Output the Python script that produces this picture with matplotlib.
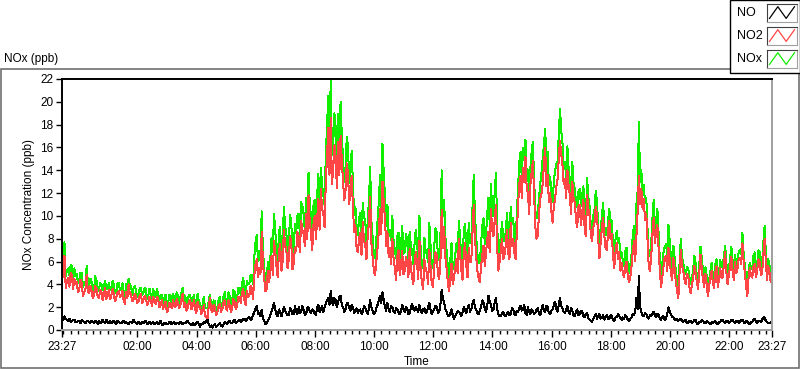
import numpy as np
import matplotlib
matplotlib.use("Agg")
import matplotlib.pyplot as plt
from matplotlib.patches import Rectangle

plt.rcParams['font.family'] = ['Liberation Sans', 'DejaVu Sans']
plt.rcParams['font.size'] = 8

# 2.5-minute values, 23:27 to 23:27 next day
# (24 values per hour, one row per hour, plus the last point)
no2 = [
    4.0, 5.4, 6.5, 3.7, 4.3, 4.6, 3.8, 5.0, 4.8, 3.6, 4.5, 4.0, 4.2, 3.3, 3.6, 4.4, 4.1, 3.0, 3.3, 3.6, 4.8, 3.4, 3.2, 3.9,
    3.4, 2.8, 3.0, 3.9, 3.6, 2.9, 2.8, 3.5, 3.3, 2.6, 3.1, 3.7, 2.7, 3.0, 3.5, 2.7, 3.0, 3.6, 3.2, 2.5, 2.8, 3.3, 3.4, 2.9,
    3.0, 3.4, 2.6, 2.3, 3.3, 2.8, 4.0, 3.2, 3.1, 2.5, 2.7, 3.2, 2.9, 2.4, 2.5, 3.0, 3.2, 2.4, 2.6, 3.0, 2.8, 2.2, 2.4, 2.9,
    2.6, 2.1, 2.9, 2.5, 2.3, 2.9, 2.7, 2.0, 2.2, 2.6, 1.8, 2.2, 2.5, 1.6, 1.7, 2.4, 2.3, 1.9, 2.6, 2.1, 2.0, 2.7, 2.4, 1.9,
    2.2, 2.7, 3.2, 2.0, 2.4, 1.7, 1.9, 2.5, 2.6, 1.8, 2.1, 2.6, 1.8, 1.5, 2.5, 2.0, 2.0, 1.4, 1.6, 2.2, 1.3, 1.1, 1.0, 2.0,
    2.8, 1.8, 1.6, 2.2, 2.0, 1.3, 1.5, 2.1, 2.3, 1.6, 1.8, 2.4, 2.6, 1.9, 1.7, 2.6, 2.2, 1.6, 1.9, 2.7, 2.5, 1.8, 2.1, 2.9,
    2.8, 2.4, 3.2, 3.6, 2.6, 2.2, 3.4, 2.9, 3.0, 3.9, 3.6, 2.7, 4.8, 5.8, 6.2, 4.6, 5.4, 4.9, 8.6, 6.0, 4.6, 3.4, 3.6, 5.2,
    4.2, 5.0, 6.5, 4.8, 7.8, 6.9, 5.6, 4.6, 6.8, 7.5, 5.2, 6.0, 8.8, 7.4, 7.0, 5.4, 6.2, 8.2, 7.6, 5.3, 5.8, 7.2, 6.9, 8.6,
    8.2, 6.8, 9.6, 8.8, 8.4, 7.4, 10.2, 8.0, 11.8, 9.4, 8.5, 7.0, 9.2, 10.0, 8.0, 9.8, 11.5, 8.8, 12.4, 10.6, 10.2, 9.0, 13.0, 15.2,
    17.7, 13.6, 18.6, 12.8, 14.0, 16.2, 15.2, 12.4, 16.5, 13.6, 17.0, 14.8, 13.0, 11.4, 12.2, 14.6, 13.8, 11.0, 12.6, 13.5, 10.8, 8.6, 9.2, 7.2,
    6.8, 8.0, 8.5, 6.6, 9.5, 7.8, 7.5, 6.2, 8.2, 9.4, 11.7, 7.6, 6.4, 5.2, 4.8, 6.0, 7.2, 8.6, 10.6, 8.4, 13.0, 11.2, 9.8, 7.4,
    8.6, 6.4, 7.2, 5.8, 8.0, 6.2, 5.5, 4.4, 6.4, 7.0, 4.8, 5.6, 6.9, 4.9, 5.2, 6.4, 6.0, 4.6, 7.1, 5.6, 4.6, 4.0, 5.8, 6.8,
    5.9, 4.5, 7.8, 5.2, 4.2, 3.6, 6.2, 5.4, 5.0, 4.0, 7.0, 5.6, 4.0, 3.8, 5.6, 6.8, 6.6, 4.8, 4.5, 6.0, 10.5, 7.2, 9.0, 6.4,
    5.4, 4.2, 3.4, 4.6, 5.8, 4.0, 4.6, 5.4, 6.2, 5.0, 8.0, 6.6, 5.2, 4.4, 6.8, 7.6, 5.6, 4.6, 7.2, 6.0, 6.0, 8.4, 11.0, 8.2,
    6.4, 5.2, 4.5, 4.2, 5.6, 6.6, 7.4, 5.6, 6.8, 8.0, 8.6, 6.8, 10.6, 8.8, 8.2, 9.6, 11.0, 7.4, 5.2, 6.0, 7.0, 8.0, 6.2, 6.6,
    7.4, 8.8, 6.8, 6.2, 9.4, 7.4, 8.0, 6.8, 6.2, 8.6, 11.0, 12.8, 13.5, 11.6, 14.2, 13.0, 15.2, 12.4, 12.0, 10.2, 12.8, 13.8, 14.8, 11.8,
    9.0, 8.0, 8.3, 10.2, 11.5, 12.0, 12.8, 14.6, 16.0, 12.6, 13.6, 11.2, 12.0, 10.4, 9.4, 10.8, 11.5, 12.6, 13.2, 15.0, 16.6, 15.4, 14.5, 12.8,
    13.2, 11.6, 14.0, 12.6, 11.8, 10.2, 13.0, 11.6, 11.2, 9.6, 9.0, 10.8, 11.0, 9.2, 10.2, 11.4, 8.9, 8.2, 11.8, 10.6, 10.0, 8.4, 7.8, 9.0,
    9.4, 10.8, 10.2, 8.0, 6.3, 7.6, 9.0, 9.8, 8.2, 7.2, 7.0, 8.6, 9.6, 8.0, 8.4, 6.6, 5.4, 6.8, 7.6, 6.2, 6.8, 5.2, 5.9, 5.0,
    4.6, 5.6, 6.0, 4.8, 4.2, 4.6, 5.5, 6.8, 7.8, 6.0, 8.2, 10.4, 13.5, 11.0, 12.4, 10.6, 11.5, 9.6, 10.2, 7.8, 5.6, 5.2, 6.4, 8.4,
    9.8, 7.6, 8.6, 9.2, 7.2, 5.2, 3.8, 4.6, 5.6, 6.4, 6.5, 5.2, 7.2, 6.2, 5.0, 4.4, 6.3, 5.4, 4.2, 3.4, 2.8, 5.0, 7.0, 5.6,
    5.2, 4.4, 4.0, 4.9, 4.8, 3.8, 3.2, 4.0, 4.5, 5.6, 5.0, 4.2, 3.6, 5.0, 6.6, 5.4, 4.4, 3.8, 4.9, 4.0, 3.0, 3.8, 4.6, 5.2,
    4.2, 3.7, 5.0, 5.6, 3.8, 4.4, 5.4, 4.6, 4.6, 5.8, 6.8, 5.0, 4.0, 4.8, 5.6, 6.4, 5.2, 4.4, 6.0, 5.0, 5.4, 6.2, 6.3, 5.8,
    7.6, 6.0, 5.0, 3.8, 3.0, 4.6, 5.4, 4.8, 4.6, 5.6, 5.8, 4.6, 5.2, 6.2, 6.0, 4.8, 5.0, 6.6, 8.0, 6.0, 4.4, 5.6, 5.0, 4.2,
    4.4,
]

no = [
    1.1, 0.9, 1.2, 1.0, 0.9, 0.8, 1.0, 0.7, 0.8, 0.9, 0.9, 0.7, 0.7, 0.8, 0.8, 0.6, 0.9, 0.8, 0.7, 0.6, 0.8, 0.8, 0.7, 0.6,
    0.8, 0.7, 0.6, 0.8, 0.7, 0.5, 0.8, 0.6, 0.7, 0.9, 0.7, 0.6, 0.9, 0.7, 0.6, 0.8, 0.6, 0.7, 0.8, 0.7, 0.5, 0.8, 0.7, 0.6,
    0.6, 0.7, 0.8, 0.6, 0.7, 0.6, 0.5, 0.7, 0.7, 0.6, 0.9, 0.7, 0.6, 0.5, 0.7, 0.6, 0.5, 0.7, 0.6, 0.7, 0.8, 0.5, 0.6, 0.7,
    0.5, 0.6, 0.7, 0.5, 0.6, 0.7, 0.5, 0.6, 0.8, 0.5, 0.4, 0.6, 0.6, 0.5, 0.5, 0.7, 0.7, 0.5, 0.6, 0.7, 0.5, 0.6, 0.6, 0.5,
    0.7, 0.6, 0.5, 0.6, 0.6, 0.7, 0.8, 0.6, 0.5, 0.4, 0.6, 0.5, 0.4, 0.6, 0.7, 0.5, 0.3, 0.5, 0.5, 0.7, 0.6, 0.8, 0.9, 0.5,
    0.3, 0.4, 0.2, 0.4, 0.5, 0.3, 0.4, 0.5, 0.6, 0.4, 0.3, 0.5, 0.7, 0.6, 0.5, 0.7, 0.8, 0.6, 0.6, 0.8, 0.9, 0.6, 0.7, 0.8,
    0.9, 0.7, 0.8, 1.0, 1.0, 0.8, 0.9, 1.1, 1.1, 0.9, 1.0, 1.3, 1.6, 1.9, 2.1, 1.4, 1.5, 1.2, 1.8, 1.0, 0.8, 0.5, 0.6, 0.8,
    1.0, 1.3, 1.6, 2.0, 2.4, 1.8, 1.4, 1.2, 1.8, 1.5, 1.2, 1.6, 2.0, 1.7, 1.5, 1.3, 1.3, 1.9, 1.8, 1.4, 1.4, 2.1, 1.6, 1.4,
    2.0, 1.5, 1.6, 2.1, 1.8, 1.3, 1.4, 1.9, 2.0, 1.6, 1.5, 1.8, 1.7, 1.4, 1.3, 2.0, 2.2, 1.6, 1.8, 2.1, 1.6, 2.0, 2.3, 2.6,
    2.8, 2.2, 3.4, 2.5, 2.2, 2.8, 2.6, 2.0, 2.4, 2.9, 3.0, 2.2, 2.0, 1.6, 1.8, 2.3, 2.4, 1.9, 1.7, 2.2, 2.0, 1.5, 1.6, 1.9,
    1.5, 1.7, 1.8, 1.4, 1.6, 2.1, 2.0, 1.6, 1.4, 1.9, 2.6, 2.0, 1.7, 1.4, 1.5, 1.9, 2.2, 2.6, 3.0, 2.4, 3.3, 2.6, 2.0, 1.7,
    2.4, 1.8, 1.6, 2.1, 2.0, 1.6, 1.5, 1.9, 1.8, 1.5, 1.4, 1.7, 2.2, 1.8, 1.6, 2.0, 1.9, 1.4, 1.5, 1.9, 2.3, 1.8, 1.7, 2.0,
    1.8, 1.6, 2.2, 1.7, 1.5, 1.8, 1.9, 1.5, 1.6, 2.0, 2.4, 1.8, 1.4, 1.6, 1.8, 2.1, 2.0, 1.5, 1.6, 2.2, 3.5, 2.8, 2.4, 1.8,
    1.6, 1.3, 1.2, 1.5, 1.8, 1.3, 1.0, 1.2, 1.4, 1.7, 1.6, 1.4, 1.2, 1.6, 2.0, 1.7, 1.5, 1.9, 2.2, 1.6, 1.8, 2.3, 2.6, 2.0,
    1.8, 1.5, 1.4, 1.7, 2.0, 2.6, 2.4, 1.9, 1.6, 2.2, 3.0, 2.5, 2.2, 1.7, 1.8, 2.4, 2.8, 1.9, 1.4, 1.2, 1.2, 1.5, 1.6, 1.3,
    1.2, 1.5, 1.6, 1.3, 1.4, 1.9, 1.8, 1.4, 1.3, 1.7, 1.6, 1.9, 2.1, 1.7, 1.8, 2.2, 1.5, 1.3, 2.0, 1.6, 1.4, 1.8, 1.7, 1.4,
    1.5, 1.8, 1.9, 1.4, 1.3, 1.8, 2.2, 1.7, 1.6, 2.1, 2.0, 1.5, 1.4, 1.7, 1.8, 2.2, 2.5, 1.9, 1.6, 2.2, 2.8, 2.1, 1.9, 1.6,
    1.5, 1.8, 2.1, 1.6, 1.4, 1.9, 1.7, 1.3, 1.2, 1.6, 1.8, 1.3, 1.4, 1.7, 1.6, 1.2, 1.1, 1.4, 1.5, 1.0, 0.9, 0.8, 0.7, 1.0,
    1.2, 1.4, 1.0, 1.2, 1.4, 1.0, 1.1, 1.3, 0.9, 1.1, 1.3, 1.0, 1.0, 1.3, 1.2, 0.9, 0.8, 1.1, 1.1, 1.4, 1.3, 1.0, 0.9, 1.1,
    1.0, 1.3, 1.2, 0.9, 0.8, 1.0, 1.1, 1.4, 1.3, 1.6, 2.8, 1.8, 4.7, 2.0, 1.6, 1.3, 1.2, 1.5, 1.4, 1.1, 1.0, 1.3, 1.2, 1.4,
    1.6, 1.3, 1.1, 1.4, 1.3, 1.0, 0.9, 1.2, 1.2, 0.9, 1.0, 1.4, 2.0, 1.6, 1.4, 1.1, 1.1, 0.9, 0.9, 1.0, 0.8, 0.9, 1.0, 0.8,
    0.7, 0.8, 0.9, 0.6, 0.6, 0.8, 0.8, 0.6, 0.7, 0.9, 0.9, 0.6, 0.5, 0.7, 0.7, 0.9, 0.8, 0.6, 0.6, 0.8, 0.7, 0.6, 0.5, 0.7,
    0.6, 0.7, 0.8, 0.6, 0.5, 0.7, 0.7, 0.9, 0.9, 0.7, 0.6, 0.8, 0.8, 0.6, 0.7, 0.9, 0.9, 0.7, 0.6, 0.8, 0.8, 0.6, 0.7, 0.9,
    0.9, 0.7, 0.6, 0.8, 0.8, 0.6, 0.5, 0.7, 0.7, 0.9, 1.0, 0.7, 0.6, 0.8, 0.8, 0.7, 0.9, 1.1, 1.1, 0.8, 0.7, 0.6, 0.6, 0.7,
    0.6,
]

n = min(len(no2), len(no))
no2 = np.array(no2[:n])
no = np.array(no[:n])
nox = no2 + no

# time in hours since midnight of the first day, start 23:27
t0 = 23 + 27 / 60
t = t0 + 24 * np.arange(n) / (n - 1)
major_ticks = [t0] + list(range(26, 47, 2)) + [t0 + 24]

def fmt_time(h):
    m = int(round(h * 60))
    return "%02d:%02d" % ((m // 60) % 24, m % 60)

fig = plt.figure(figsize=(8, 3.69), dpi=100)
ax = fig.add_axes([62 / 800, 1 - 330 / 369, 710 / 800, 251 / 369])

ax.plot(t, nox, color='#11ee00', lw=0.72, antialiased=False)
ax.plot(t, no2, color='#ff4646', lw=0.72, antialiased=False)
ax.plot(t, no, color='black', lw=0.72, antialiased=False)

ax.set_xlim(t0, t0 + 24)
ax.set_ylim(0, 22)
ax.set_yticks(range(0, 23, 2))
ax.set_xticks(major_ticks)
ax.set_xticklabels([fmt_time(h) for h in major_ticks])
ax.set_xticks(np.arange(23.5, t0 + 24, 0.25), minor=True)
ax.tick_params(axis='y', length=4, width=1, pad=2, labelsize=8.5)
ax.tick_params(axis='x', which='major', length=5, width=1, pad=3, labelsize=8.5)
ax.tick_params(axis='x', which='minor', length=3, width=1)

for s in ['top', 'left']:
    ax.spines[s].set_color('black')
    ax.spines[s].set_linewidth(1.4)
for s in ['bottom', 'right']:
    ax.spines[s].set_color('#a0a0a0')
    ax.spines[s].set_linewidth(1.4)

ax.set_ylabel('NOx Concentration (ppb)', fontsize=8.5, labelpad=4)
ax.set_xlabel('Time', fontsize=8.5, labelpad=2)

# outer frame
fig.patches.append(Rectangle((0.5 / 800, 1.5 / 369), 798.5 / 800, (369 - 69 - 1.5) / 369,
                             transform=fig.transFigure, fill=False,
                             edgecolor='#707070', lw=1.2))
fig.text(4 / 800, 1 - 59 / 369, 'NOx (ppb)', fontsize=8.5, va='center', ha='left')

# legend box
fig.patches.append(Rectangle((730 / 800, 1 - 73 / 369), 69.5 / 800, 73 / 369,
                             transform=fig.transFigure, facecolor='white',
                             edgecolor='black', lw=1.0, zorder=5))
names = ['NO', 'NO2', 'NOx']
colors = ['black', '#ff4646', '#11ee00']
for i, (name, c) in enumerate(zip(names, colors)):
    yc = 13 + i * 23
    fig.text(737 / 800, 1 - yc / 369, name, fontsize=9, va='center', ha='left', zorder=6)
    sw = fig.add_axes([767 / 800, 1 - (yc + 9) / 369, 30 / 800, 18 / 369], zorder=6)
    sw.plot([0, 1, 2, 3], [0.2, 0.85, 0.2, 0.85], color=c, lw=0.9)
    sw.set_xlim(-0.3, 3.3)
    sw.set_ylim(0, 1)
    sw.set_xticks([])
    sw.set_yticks([])
    for s in ['top', 'left']:
        sw.spines[s].set_color('#404040')
    for s in ['bottom', 'right']:
        sw.spines[s].set_color('#a0a0a0')

fig.savefig('out.png', dpi=100)
